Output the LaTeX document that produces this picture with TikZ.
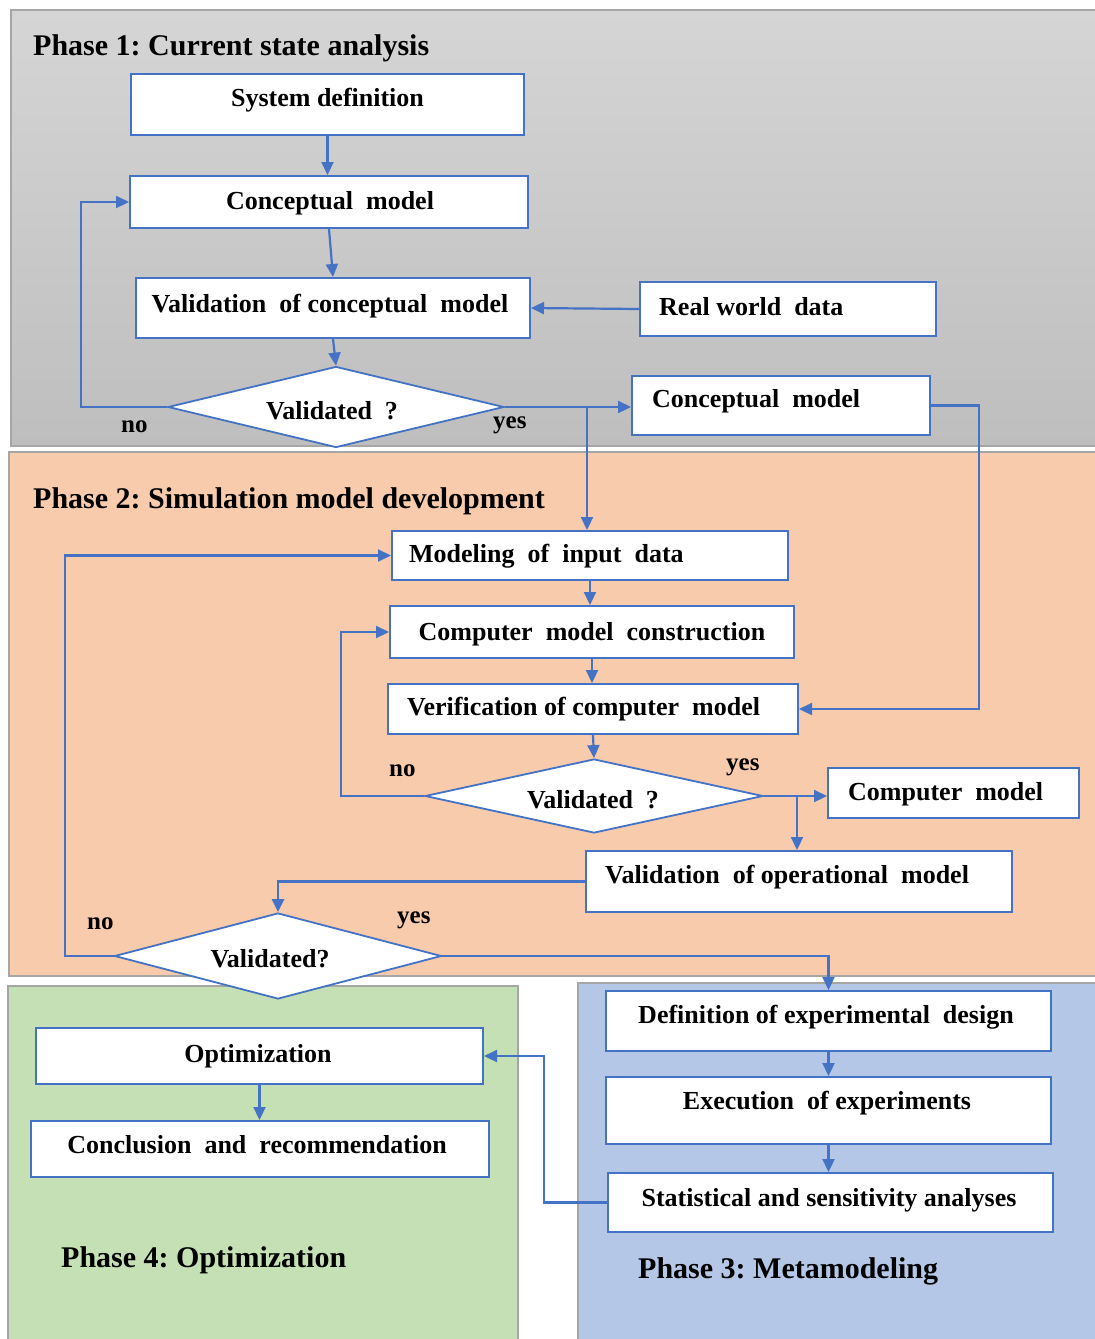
\documentclass[tikz,border=0pt]{standalone}
\usepackage{fontspec}
\setmainfont{Liberation Serif}
\usetikzlibrary{shapes.geometric,arrows.meta,fit}
\definecolor{flowblue}{HTML}{4472C4}
\definecolor{panelline}{HTML}{A6A6A6}
\definecolor{greytop}{HTML}{D5D5D5}
\definecolor{greybot}{HTML}{BEBEBE}
\definecolor{peach}{HTML}{F8CBAD}
\definecolor{sage}{HTML}{C5E0B4}
\definecolor{skyblue}{HTML}{B4C7E7}
\frenchspacing
% wide word gap used in several labels
\newcommand{\dsp}{\hspace{0.5em}}
\begin{document}
\begin{tikzpicture}[x=1pt,y=-1pt,
  panel/.style={draw=panelline, line width=1.5pt},
  box/.style={draw=flowblue, line width=2pt, fill=white, inner sep=0pt},
  decision/.style={diamond, draw=flowblue, line width=1.8pt, fill=white, inner sep=0pt},
  link/.style={draw=flowblue, line width=2.2pt, -{Triangle[length=13pt,width=12pt]}},
  boxtext/.style={font=\fontsize{26}{31}\selectfont\bfseries, inner sep=0pt},
  flagtext/.style={font=\fontsize{25}{30}\selectfont\bfseries, inner sep=0pt},
  phasetitle/.style={font=\fontsize{30}{36}\selectfont\bfseries, inner sep=0pt}
]
\useasboundingbox (0,0) rectangle (1095,1339);
\fill[white] (0,0) rectangle (1095,1339);
\begin{scope}
\clip (0,0) rectangle (1095,1339);

% phase panels
\path[panel, top color=greytop, bottom color=greybot] (11,10) rectangle (1102,446);
\path[panel, fill=peach] (9,452) rectangle (1102,976);
\path[panel, fill=sage] (8,986) rectangle (518,1350);
\path[panel, fill=skyblue] (578,983) rectangle (1102,1350);

% phase titles
\node[phasetitle, anchor=base west] (t1) at (33,55) {Phase 1: Current state analysis};
\node[phasetitle, anchor=base west] (t2) at (33,508) {Phase 2: Simulation model development};
\node[phasetitle, anchor=base west] (t3) at (638,1278) {Phase 3: Metamodeling};
\node[phasetitle, anchor=base west] (t4) at (61,1267) {Phase 4: Optimization};

% Phase 1 boxes
\node[box, fit={(131,74) (524,135)}] (sysdef) {};
\node[box, fit={(130,176) (528,228)}] (cm1) {};
\node[box, fit={(136,278) (530,338)}] (valcm) {};
\node[box, fit={(640,282) (936,336)}] (rwd) {};
\node[box, fit={(632,376) (930,435)}] (cm2) {};
\node[decision, minimum width=336pt, minimum height=81pt] (d1) at (336,407) {};

% Phase 2 boxes
\node[box, fit={(392,531) (788,580)}] (mod) {};
\node[box, fit={(390,606) (794,658)}] (ccon) {};
\node[box, fit={(388,684) (798,734)}] (ver) {};
\node[decision, minimum width=338pt, minimum height=74pt] (d2) at (594,796) {};
\node[box, fit={(828,768) (1079,818)}] (cmod) {};
\node[box, fit={(586,851) (1012,912)}] (vop) {};

% Phase 3 boxes
\node[box, fit={(606,991) (1051,1051)}] (def) {};
\node[box, fit={(606,1077) (1051,1144)}] (exe) {};
\node[box, fit={(608,1173) (1053,1232)}] (stat) {};

% Phase 4 boxes
\node[box, fit={(36,1028) (483,1084)}] (opt) {};
\node[box, fit={(31,1121) (489,1177)}] (concl) {};

% final decision overlaps phases 2 and 4
\node[decision, minimum width=327pt, minimum height=86pt] (d3) at (278,956) {};

% box texts
\node[boxtext, anchor=base] (sysdef-t) at (327.5,106) {System definition};
\node[boxtext, anchor=base] (cm1-t) at (330,209) {Conceptual\dsp model};
\node[boxtext, anchor=base] (valcm-t) at (330,312) {Validation\dsp of conceptual\dsp model};
\node[boxtext, anchor=base west] (rwd-t) at (659,315) {Real world\dsp data};
\node[boxtext, anchor=base west] (cm2-t) at (652,407) {Conceptual\dsp model};
\node[boxtext, anchor=base] (d1-t) at (332,419) {Validated\dsp ?};
\node[boxtext, anchor=base west] (mod-t) at (409,562) {Modeling\dsp of\dsp input\dsp data};
\node[boxtext, anchor=base] (ccon-t) at (592,640) {Computer\dsp model\dsp construction};
\node[boxtext, anchor=base west] (ver-t) at (407,715) {Verification of computer\dsp model};
\node[boxtext, anchor=base] (d2-t) at (593,808) {Validated\dsp ?};
\node[boxtext, anchor=base west] (cmod-t) at (848,800) {Computer\dsp model};
\node[boxtext, anchor=base west] (vop-t) at (605,883) {Validation\dsp of operational\dsp model};
\node[boxtext, anchor=base] (d3-t) at (270,967) {Validated?};
\node[boxtext, anchor=base] (def-t) at (826,1023) {Definition of experimental\dsp design};
\node[boxtext, anchor=base] (exe-t) at (827,1109) {Execution\dsp of experiments};
\node[boxtext, anchor=base] (stat-t) at (829,1206) {Statistical and sensitivity analyses};
\node[boxtext, anchor=base] (opt-t) at (258,1062) {Optimization};
\node[boxtext, anchor=base] (concl-t) at (257,1153) {Conclusion\dsp and\dsp recommendation};

% branch labels
\node[flagtext, anchor=base west] (no1) at (121,432) {no};
\node[flagtext, anchor=base west] (yes1) at (493,428) {yes};
\node[flagtext, anchor=base west] (no2) at (389,776) {no};
\node[flagtext, anchor=base west] (yes2) at (726,770) {yes};
\node[flagtext, anchor=base west] (no3) at (87,929) {no};
\node[flagtext, anchor=base west] (yes3) at (397,923) {yes};

% junctions on the "yes" lines
\coordinate (j1) at (587,407);
\coordinate (j2) at (797,796);

% Phase 1 connectors
\draw[link] (sysdef.south) -- (sysdef.south |- cm1.north);
\draw[link] (cm1.south) -- (valcm.north);
\draw[link] (valcm.south) -- (d1.north);
\draw[link] (d1.west) -- ++(-86,0) |- (cm1.west);
\draw[link] (rwd.west) -- (valcm.east);
\draw[link] (d1.east) -- (d1.east -| cm2.west);
\draw[link] (j1) -- (j1 |- mod.north);
\draw[link] (cm2.east) -- ++(48,0) |- (ver.east);

% Phase 2 connectors
\draw[link] (mod.south) -- (mod.south |- ccon.north);
\draw[link] (ccon.south) -- (ccon.south |- ver.north);
\draw[link] (ver.south) -- (d2.north);
\draw[link] (d2.west) -- ++(-83,0) |- (ccon.west);
\draw[link] (d2.east) -- (d2.east -| cmod.west);
\draw[link] (j2) -- (j2 |- vop.north);
\draw[link] (vop.west) -| (d3.north);
\draw[link] (d3.west) -- ++(-49,0) |- (mod.west);
\draw[link] (d3.east) -| (def.north);

% Phase 3 and 4 connectors
\draw[link] (def.south) -- (def.south |- exe.north);
\draw[link] (exe.south) -- (exe.south |- stat.north);
\draw[link] (stat.west) -- ++(-63,0) |- (opt.east);
\draw[link] (opt.south) -- (opt.south |- concl.north);
\end{scope}
\end{tikzpicture}
\end{document}
